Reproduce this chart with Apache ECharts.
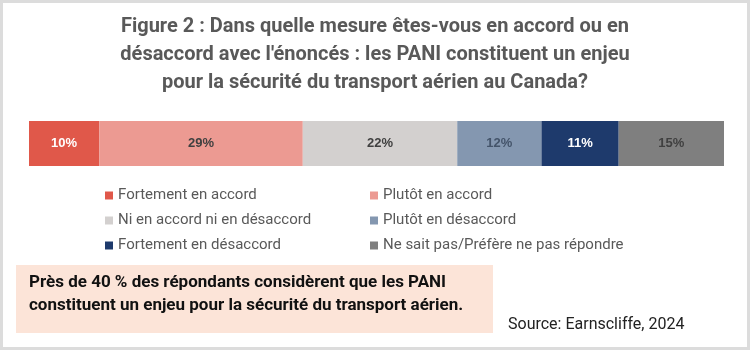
<!DOCTYPE html>
<html>
<head>
<meta charset="utf-8">
<script src="https://cdn.jsdelivr.net/npm/echarts@6/dist/echarts.min.js"></script>
<style>
  html, body { margin: 0; padding: 0; background: #fff; }
  #chart { width: 750px; height: 350px; }
</style>
</head>
<body>
<div id="chart"></div>
<script>
// réponses (%)
const categories = ['PANI'];
const seriesNames = [
  'Fortement en accord',
  'Plutôt en accord',
  'Ni en accord ni en désaccord',
  'Plutôt en désaccord',
  'Fortement en désaccord',
  'Ne sait pas/Préfère ne pas répondre'
];
const seriesValues = [10, 29, 22, 12, 11, 15];
const seriesColors = ['#E0584A', '#EC9A92', '#D3D0CF', '#8497B0', '#1E3A6C', '#7F7F7F'];
const labelColors = ['#ffffff', '#404040', '#404040', '#44546A', '#ffffff', '#404040'];

const titleLines = [
  'Figure 2 : Dans quelle mesure êtes-vous en accord ou en',
  "désaccord avec l'énoncés : les PANI constituent un enjeu",
  'pour la sécurité du transport aérien au Canada?'
];
const noteLines = [
  'Près de 40 % des répondants considèrent que les PANI',
  'constituent un enjeu pour la sécurité du transport aérien.'
];
const sourceText = 'Source: Earnscliffe, 2024';

const narrow = "'Liberation Sans Narrow', 'Roboto', sans-serif";
const total = seriesValues.reduce((a, b) => a + b, 0);

var myChart = echarts.init(document.getElementById('chart'));

const series = seriesNames.map((name, i) => ({
  name: name,
  type: 'bar',
  stack: 'total',
  barWidth: 45,
  data: [seriesValues[i]],
  itemStyle: { color: seriesColors[i] },
  label: {
    show: true,
    position: 'inside',
    formatter: '{c}%',
    color: labelColors[i],
    fontWeight: 'bold',
    fontSize: 13,
    fontFamily: "'Liberation Sans', Arial, sans-serif"
  },
  emphasis: { disabled: true }
}));

const legendBase = {
  orient: 'vertical',
  itemWidth: 8,
  itemHeight: 8,
  itemGap: 10,
  icon: 'rect',
  textStyle: { color: '#595959', fontSize: 15, fontFamily: narrow },
  selectedMode: false
};

const option = {
  animation: false,
  title: {
    text: titleLines.join('\n'),
    left: 'center',
    top: 8,
    textStyle: {
      color: '#595959',
      fontSize: 20,
      fontWeight: 'bold',
      lineHeight: 28,
      fontFamily: narrow
    }
  },
  grid: { left: 29, right: 26, top: 121, height: 45 },
  xAxis: { type: 'value', min: 0, max: total, show: false },
  yAxis: { type: 'category', data: categories, show: false },
  legend: [
    Object.assign({}, legendBase, { left: 100, top: 183, data: [seriesNames[0], seriesNames[2], seriesNames[4]] }),
    Object.assign({}, legendBase, { left: 365, top: 183, data: [seriesNames[1], seriesNames[3], seriesNames[5]] })
  ],
  graphic: [
    {
      type: 'rect',
      shape: { x: 1.5, y: 1.5, width: 747, height: 347 },
      style: { fill: 'none', stroke: '#DCDCDC', lineWidth: 3 },
      silent: true
    },
    {
      type: 'rect',
      shape: { x: 16, y: 265, width: 477, height: 68 },
      style: { fill: '#FCE4D8' },
      silent: true
    },
    {
      type: 'text',
      left: 29,
      top: 271,
      style: {
        text: noteLines.join('\n'),
        fill: '#111',
        fontSize: 17,
        fontWeight: 'bold',
        lineHeight: 23,
        fontFamily: narrow
      }
    },
    {
      type: 'text',
      left: 508,
      top: 317,
      style: {
        text: sourceText,
        fill: '#222',
        fontSize: 16,
        fontFamily: narrow
      }
    }
  ],
  series: series
};
myChart.setOption(option);
</script>
</body>
</html>
